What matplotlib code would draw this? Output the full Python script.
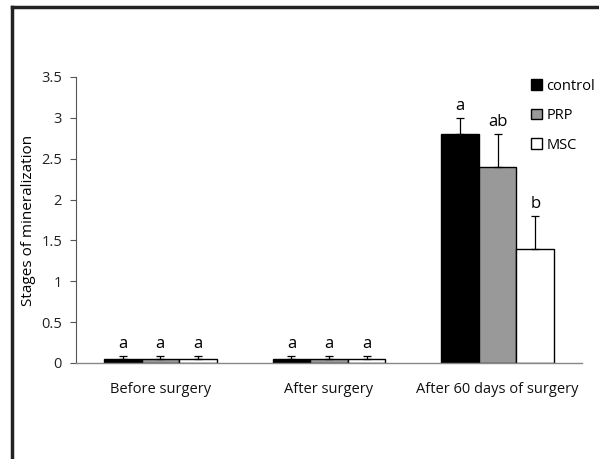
import matplotlib
matplotlib.use("Agg")
import matplotlib.pyplot as plt
import numpy as np
from matplotlib.lines import Line2D

categories = ["Before surgery", "After surgery", "After 60 days of surgery"]
series = ["control", "PRP", "MSC"]
control = [0.05, 0.05, 2.8]
prp = [0.05, 0.05, 2.4]
msc = [0.05, 0.05, 1.4]
control_err = [0.03, 0.03, 0.2]
prp_err = [0.03, 0.03, 0.4]
msc_err = [0.03, 0.03, 0.4]
letters_control = ["a", "a", "a"]
letters_prp = ["a", "a", "ab"]
letters_msc = ["a", "a", "b"]
yticks = [0, 0.5, 1, 1.5, 2, 2.5, 3, 3.5]
ytick_labels = ["0", "0.5", "1", "1.5", "2", "2.5", "3", "3.5"]

plt.rcParams['font.family'] = ['Open Sans', 'DejaVu Sans']

fig = plt.figure(figsize=(5.99, 4.59), dpi=100)
ax = fig.add_axes([76/599, 1-363/459, (582-76)/599, (363-77)/459])

x = np.arange(len(categories))
w = 0.223
colors = ["#000000", "#999999", "#ffffff"]
vals = [control, prp, msc]
errs = [control_err, prp_err, msc_err]
lets = [letters_control, letters_prp, letters_msc]
for i, (v, e, c, l, name) in enumerate(zip(vals, errs, colors, lets, series)):
    pos = x + (i - 1) * w
    ax.bar(pos, v, w, color=c, edgecolor="black", linewidth=1.0, label=name, zorder=2)
    ax.errorbar(pos, v, yerr=[np.zeros(len(v)), e], fmt="none", ecolor="black",
                elinewidth=0.9, capsize=3, capthick=0.9, zorder=3)
    for p, vv, ee, t in zip(pos, v, e, l):
        ax.text(p, vv + ee + 0.05, t, ha="center", va="bottom", fontsize=12)

ax.set_xlim(-0.5, 2.5)
ax.set_ylim(0, 3.5)
ax.set_yticks(yticks)
ax.set_yticklabels(ytick_labels, fontsize=10.5, color="#222222")
ax.set_xticks(x)
ax.set_xticklabels(categories, fontsize=10.5, color="#111111")
ax.tick_params(axis="x", length=0, pad=14)
ax.tick_params(axis="y", length=4, width=0.8, color="#555555", pad=6)
for s in ["top", "right"]:
    ax.spines[s].set_visible(False)
ax.spines["left"].set_color("#555555")
ax.spines["bottom"].set_color("#888888")
ax.spines["left"].set_linewidth(0.8)
ax.spines["bottom"].set_linewidth(1.0)
ax.set_ylabel("Stages of mineralization", fontsize=11, labelpad=4)

leg = ax.legend(loc="upper left", bbox_to_anchor=(0.888, 1.015), frameon=False,
                handlelength=0.75, handleheight=0.75, handletextpad=0.3,
                labelspacing=1.0, fontsize=10.5, borderaxespad=0)

# outer frame (left and top edges)
fig.add_artist(Line2D([12/599, 12/599], [0, 1-7/459], transform=fig.transFigure,
                      color="#222222", linewidth=2.5))
fig.add_artist(Line2D([12/599, 1], [1-7/459, 1-7/459], transform=fig.transFigure,
                      color="#222222", linewidth=2.5))

fig.savefig("out.png", dpi=100)
